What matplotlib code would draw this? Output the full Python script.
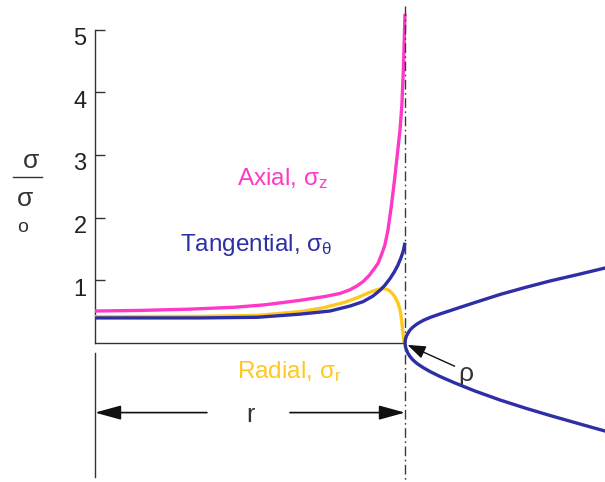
import matplotlib
matplotlib.use("Agg")
import matplotlib.pyplot as plt
from matplotlib.lines import Line2D
from matplotlib.transforms import ScaledTranslation

plt.rcParams['font.family'] = ['Liberation Sans', 'DejaVu Sans']
plt.rcParams['mathtext.fontset'] = 'custom'
plt.rcParams['mathtext.rm'] = 'Liberation Sans'
plt.rcParams['mathtext.it'] = 'Liberation Sans'
plt.rcParams['mathtext.bf'] = 'Liberation Sans:bold'

# ---- stress distributions (distance normalised so the notch root is at 1) ----
axial_x = [0, 0.15, 0.306, 0.45, 0.55, 0.661, 0.74, 0.79, 0.823, 0.845, 0.865,
           0.885, 0.90, 0.913, 0.925, 0.935, 0.945, 0.955, 0.965, 0.974,
           0.984, 0.990, 0.995, 1.0]
axial_s = [0.51, 0.52, 0.54, 0.57, 0.61, 0.68, 0.74, 0.79, 0.85, 0.91, 0.98,
           1.08, 1.18, 1.27, 1.42, 1.56, 1.80, 2.15, 2.55, 2.95,
           3.4, 3.8, 4.4, 5.25]

tang_x = [0, 0.339, 0.523, 0.661, 0.758, 0.823, 0.865, 0.897, 0.919, 0.935,
          0.952, 0.965, 0.977, 0.987, 0.994, 1.0]
tang_s = [0.40, 0.40, 0.41, 0.46, 0.51, 0.59, 0.66, 0.75, 0.84, 0.92,
          1.03, 1.13, 1.24, 1.36, 1.46, 1.60]

rad_x = [0, 0.339, 0.523, 0.661, 0.735, 0.806, 0.845, 0.887, 0.903, 0.919,
         0.932, 0.942, 0.952, 0.961, 0.968, 0.977, 0.984, 0.988, 0.991,
         0.994, 0.997]
rad_s = [0.42, 0.425, 0.44, 0.50, 0.56, 0.65, 0.72, 0.81, 0.84, 0.86,
         0.865, 0.855, 0.825, 0.78, 0.73, 0.64, 0.53, 0.40, 0.27,
         0.13, 0.0]

# ---- notch contour with root radius rho ----
notch_x = [1.0, 1.0016, 1.0048, 1.0097, 1.0161, 1.0258, 1.0387, 1.0581,
           1.0806, 1.1129, 1.1613, 1.2258, 1.3065, 1.3871, 1.4677, 1.5645,
           1.6452, 1.6774]
notch_upper = [0, 0.064, 0.112, 0.159, 0.207, 0.255, 0.303, 0.359,
               0.407, 0.463, 0.542, 0.646, 0.774, 0.885, 0.989, 1.100,
               1.196, 1.233]
notch_lower = [0, -0.064, -0.112, -0.167, -0.215, -0.271, -0.327, -0.391,
               -0.455, -0.534, -0.638, -0.766, -0.909, -1.037, -1.156, -1.292,
               -1.404, -1.448]

yticks = [1, 2, 3, 4, 5]
ytick_labels = ['1', '2', '3', '4', '5']

PINK = '#ff38c8'
BLUE = '#2e2ea6'
YELLOW = '#ffc81e'
DARK = '#333333'

W, H = 605, 482
fig = plt.figure(figsize=(W / 100, H / 100), dpi=100)
ax = fig.add_axes([95 / W, (H - 343) / H, 310 / W, 313.5 / H])
ax.set_xlim(0, 1)
ax.set_ylim(0, 5)

for side in ('top', 'right'):
    ax.spines[side].set_visible(False)
for side in ('left', 'bottom'):
    ax.spines[side].set_color(DARK)
    ax.spines[side].set_linewidth(1.0)

ax.set_xticks([])
ax.set_yticks(yticks)
ax.set_yticklabels(ytick_labels)
ax.tick_params(axis='y', direction='in', length=7.5, width=1.0, color=DARK,
               pad=6, labelsize=17, labelcolor='#222222')
shift = ScaledTranslation(0, -7 / 100, fig.dpi_scale_trans)
for lab in ax.get_yticklabels():
    lab.set_transform(lab.get_transform() + shift)

LW = 2.4
# stress curves
ax.plot(axial_x, axial_s, color=PINK, lw=LW, clip_on=False, zorder=3,
        solid_capstyle='butt', solid_joinstyle='round')
ax.plot(rad_x, rad_s, color=YELLOW, lw=LW, clip_on=False, zorder=3,
        solid_capstyle='butt', solid_joinstyle='round')
ax.plot(tang_x, tang_s, color=BLUE, lw=LW, clip_on=False, zorder=4,
        solid_capstyle='butt', solid_joinstyle='round')

# notch outline, drawn from the lower flank through the root to the upper flank
ax.plot(notch_x[::-1] + notch_x[1:], notch_lower[::-1] + notch_upper[1:],
        color=BLUE, lw=LW, clip_on=False, zorder=4, solid_joinstyle='round')

# centre line through the notch root
ax.plot([1.0, 1.0], [5.37, -2.4], color='#3a3a3a', lw=1.0, clip_on=False,
        linestyle=(0, (7, 2.5, 1.2, 2.5)), zorder=5)

# left boundary below the axis
ax.plot([0, 0], [-0.16, -2.14], color=DARK, lw=1.0, clip_on=False)

# r dimension arrows
arrow_r = dict(arrowstyle='-|>,head_length=0.8,head_width=0.22',
               color='#111111', lw=1.2, shrinkA=0, shrinkB=0,
               mutation_scale=20)
ax.annotate('', xy=(0, -1.11), xytext=(0.361, -1.11), arrowprops=arrow_r,
            annotation_clip=False)
ax.annotate('', xy=(1.0, -1.11), xytext=(0.629, -1.11), arrowprops=arrow_r,
            annotation_clip=False)
ax.text(0.5, -1.26, 'r', fontsize=18, color=DARK, ha='center', va='baseline')

# rho pointer
arrow_rho = dict(arrowstyle='-|>,head_length=0.55,head_width=0.2',
                 color='#111111', lw=1.0, shrinkA=0, shrinkB=0,
                 mutation_scale=20)
ax.annotate('', xy=(1.008, -0.03), xytext=(1.16, -0.37), arrowprops=arrow_rho,
            annotation_clip=False)
ax.text(1.197, -0.60, 'ρ', fontsize=19, color=DARK, ha='center', va='baseline')

# curve labels
FS = 17.5
ax.text(0.458, 2.52, r'Axial, $\sigma_\mathrm{z}$', fontsize=FS, color=PINK,
        ha='left', va='baseline')
ax.text(0.274, 1.467, r'Tangential, $\sigma_\theta$', fontsize=FS, color=BLUE,
        ha='left', va='baseline')
ax.text(0.458, -0.558, r'Radial, $\sigma_\mathrm{r}$', fontsize=FS,
        color=YELLOW, ha='left', va='baseline', clip_on=False)

# y-axis label: sigma over sigma_o
def fpos(px, py):
    return px / W, 1 - py / H

fig.text(*fpos(31.5, 161.5), 'σ', fontsize=19, color=DARK,
         ha='center', va='center')
fig.add_artist(Line2D([13 / W, 42 / W], [1 - 177 / H, 1 - 177 / H],
                      color=DARK, lw=1.0))
fig.text(*fpos(25, 198.5), 'σ', fontsize=19, color=DARK,
         ha='center', va='center')
fig.text(*fpos(23, 227.5), 'o', fontsize=14, color=DARK,
         ha='center', va='center')

fig.savefig('out.png', dpi=100)
